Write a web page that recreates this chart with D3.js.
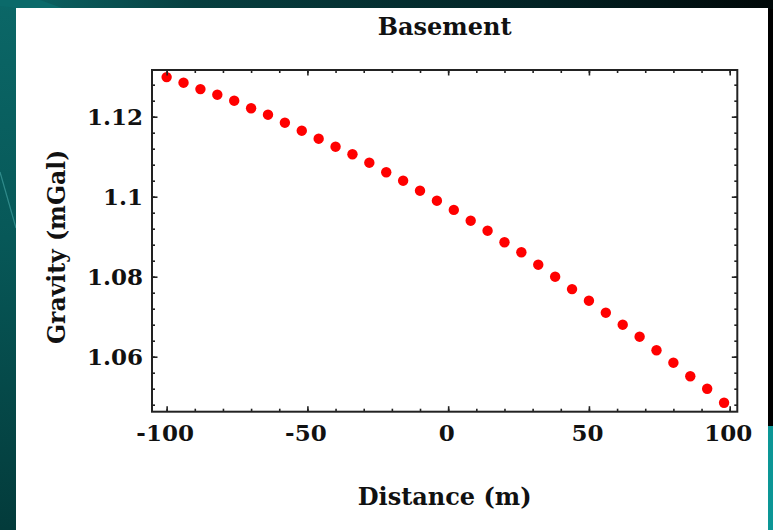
<!DOCTYPE html>
<html>
<head>
<meta charset="utf-8">
<script src="https://cdn.jsdelivr.net/npm/d3@7"></script>
<style>
  html, body { margin: 0; padding: 0; background: #000; }
  svg { display: block; }
</style>
</head>
<body>
<svg id="chart" width="773" height="530"></svg>
<script>
// ---- data ----
const distance = [-100, -94, -88, -82, -76, -70, -64, -58, -52, -46, -40, -34,
  -28, -22, -16, -10, -4, 2, 8, 14, 20, 26, 32, 38, 44, 50, 56, 62, 68, 74, 80, 86, 92, 98];
const gravity = [1.1299, 1.1285, 1.1269, 1.1255, 1.1240, 1.1221, 1.1205, 1.1185,
  1.1165, 1.1145, 1.1125, 1.1106, 1.1085, 1.1061, 1.1040, 1.1015, 1.0990, 1.0967,
  1.0940, 1.0915, 1.0886, 1.0861, 1.0830, 1.0800, 1.0769, 1.0740, 1.0710, 1.0680,
  1.0650, 1.0616, 1.0585, 1.0551, 1.0520, 1.0485];
const xMajorTicks = [-100, -50, 0, 50, 100];
const xMajorLabels = ["-100", "-50", "0", "50", "100"];
const xMinorTicks = [-100, -90, -80, -70, -60, -50, -40, -30, -20, -10, 0, 10, 20, 30, 40, 50, 60, 70, 80, 90, 100];
const yMajorTicks = [1.06, 1.08, 1.1, 1.12];
const yMajorLabels = ["1.06", "1.08", "1.1", "1.12"];
const yMinorTicks = [1.048, 1.052, 1.056, 1.060, 1.064, 1.068, 1.072, 1.076, 1.080, 1.084, 1.088,
  1.092, 1.096, 1.100, 1.104, 1.108, 1.112, 1.116, 1.120, 1.124, 1.128];
const titleText = "Basement";
const xLabelText = "Distance (m)";
const yLabelText = "Gravity (mGal)";

// ---- layout ----
const W = 773, H = 530;
const svg = d3.select("#chart");
const defs = svg.append("defs");

const gTop = defs.append("linearGradient").attr("id", "gTop").attr("x1", 0).attr("x2", 1).attr("y1", 0).attr("y2", 0);
gTop.append("stop").attr("offset", "0").attr("stop-color", "#0c6868");
gTop.append("stop").attr("offset", "0.25").attr("stop-color", "#073f40");
gTop.append("stop").attr("offset", "0.7").attr("stop-color", "#022224");
gTop.append("stop").attr("offset", "1").attr("stop-color", "#000808");

const gLeft = defs.append("linearGradient").attr("id", "gLeft").attr("x1", 0).attr("x2", 0).attr("y1", 0).attr("y2", 1);
gLeft.append("stop").attr("offset", "0").attr("stop-color", "#0b6767");
gLeft.append("stop").attr("offset", "0.45").attr("stop-color", "#075858");
gLeft.append("stop").attr("offset", "1").attr("stop-color", "#033b3b");

// background
svg.append("rect").attr("x", 0).attr("y", 0).attr("width", W).attr("height", H).attr("fill", "#000");
svg.append("rect").attr("x", 0).attr("y", 0).attr("width", W).attr("height", 9).attr("fill", "url(#gTop)");
svg.append("rect").attr("x", 0).attr("y", 0).attr("width", 17).attr("height", H).attr("fill", "url(#gLeft)");
svg.append("polygon").attr("points", "0,0 40,0 62,8 17,8 0,6").attr("fill", "#0b6a6a");
svg.append("line").attr("x1", 0).attr("y1", 172).attr("x2", 16).attr("y2", 228)
  .attr("stroke", "#2f8a8a").attr("stroke-width", 1.2);
svg.append("rect").attr("x", 768).attr("y", 426).attr("width", 5).attr("height", H - 426).attr("fill", "#0c9696");

// white panel
svg.append("rect").attr("x", 16).attr("y", 8).attr("width", 752).attr("height", H - 8).attr("fill", "#ffffff");

// ---- scales ----
const x = d3.scaleLinear().domain([-105.2, 102.7]).range([152, 737.3]);
const y = d3.scaleLinear().domain([1.04625, 1.13167]).range([411.7, 70]);

const fontFam = "'DejaVu Serif', 'Liberation Serif', serif";

// points
svg.append("g").selectAll("circle").data(distance.map((d, i) => [d, gravity[i]]))
  .join("circle")
  .attr("cx", d => x(d[0]))
  .attr("cy", d => y(d[1]))
  .attr("r", 5.2)
  .attr("fill", "#ff0000");

// axes: minor ticks (all four sides, inward)
function styleAxis(g) {
  g.select(".domain").remove();
  g.selectAll(".tick line").attr("stroke", "#222").attr("stroke-width", 1.6);
}
svg.append("g").attr("transform", `translate(0,${y.range()[0]})`)
  .call(d3.axisBottom(x).tickValues(xMinorTicks).tickSize(-3).tickFormat(""))
  .call(styleAxis);
svg.append("g").attr("transform", `translate(0,${y.range()[1]})`)
  .call(d3.axisTop(x).tickValues(xMinorTicks).tickSize(-3).tickFormat(""))
  .call(styleAxis);
svg.append("g").attr("transform", `translate(${x.range()[0]},0)`)
  .call(d3.axisLeft(y).tickValues(yMinorTicks).tickSize(-3).tickFormat(""))
  .call(styleAxis);
svg.append("g").attr("transform", `translate(${x.range()[1]},0)`)
  .call(d3.axisRight(y).tickValues(yMinorTicks).tickSize(-3).tickFormat(""))
  .call(styleAxis);

// major ticks with labels
const xAxis = svg.append("g").attr("transform", `translate(0,${y.range()[0]})`)
  .call(d3.axisBottom(x).tickValues(xMajorTicks).tickSize(-5.5).tickPadding(13)
    .tickFormat((d, i) => xMajorLabels[i]))
  .call(styleAxis);
xAxis.selectAll("text").attr("font-family", fontFam).attr("font-weight", "bold")
  .attr("font-size", 23).attr("fill", "#111").attr("dx", "-2");
svg.append("g").attr("transform", `translate(0,${y.range()[1]})`)
  .call(d3.axisTop(x).tickValues(xMajorTicks).tickSize(-5.5).tickFormat(""))
  .call(styleAxis);

const yAxis = svg.append("g").attr("transform", `translate(${x.range()[0]},0)`)
  .call(d3.axisLeft(y).tickValues(yMajorTicks).tickSize(-5.5).tickPadding(9)
    .tickFormat((d, i) => yMajorLabels[i]))
  .call(styleAxis);
yAxis.selectAll("text").attr("font-family", fontFam).attr("font-weight", "bold")
  .attr("font-size", 23).attr("fill", "#111");
svg.append("g").attr("transform", `translate(${x.range()[1]},0)`)
  .call(d3.axisRight(y).tickValues(yMajorTicks).tickSize(-5.5).tickFormat(""))
  .call(styleAxis);

// frame
svg.append("rect")
  .attr("x", x.range()[0]).attr("y", y.range()[1])
  .attr("width", x.range()[1] - x.range()[0]).attr("height", y.range()[0] - y.range()[1])
  .attr("fill", "none").attr("stroke", "#222").attr("stroke-width", 2);

// title & labels
const cx = (x.range()[0] + x.range()[1]) / 2;
svg.append("text").attr("x", cx).attr("y", 35).attr("text-anchor", "middle")
  .attr("font-family", fontFam).attr("font-weight", "bold").attr("font-size", 24)
  .attr("fill", "#111").text(titleText);
svg.append("text").attr("x", cx).attr("y", 505).attr("text-anchor", "middle")
  .attr("font-family", fontFam).attr("font-weight", "bold").attr("font-size", 24)
  .attr("fill", "#111").text(xLabelText);
svg.append("text").attr("transform", `translate(65,${(y.range()[0] + y.range()[1]) / 2 + 6}) rotate(-90)`)
  .attr("text-anchor", "middle")
  .attr("font-family", fontFam).attr("font-weight", "bold").attr("font-size", 23.5)
  .attr("fill", "#111").text(yLabelText);
</script>
</body>
</html>
